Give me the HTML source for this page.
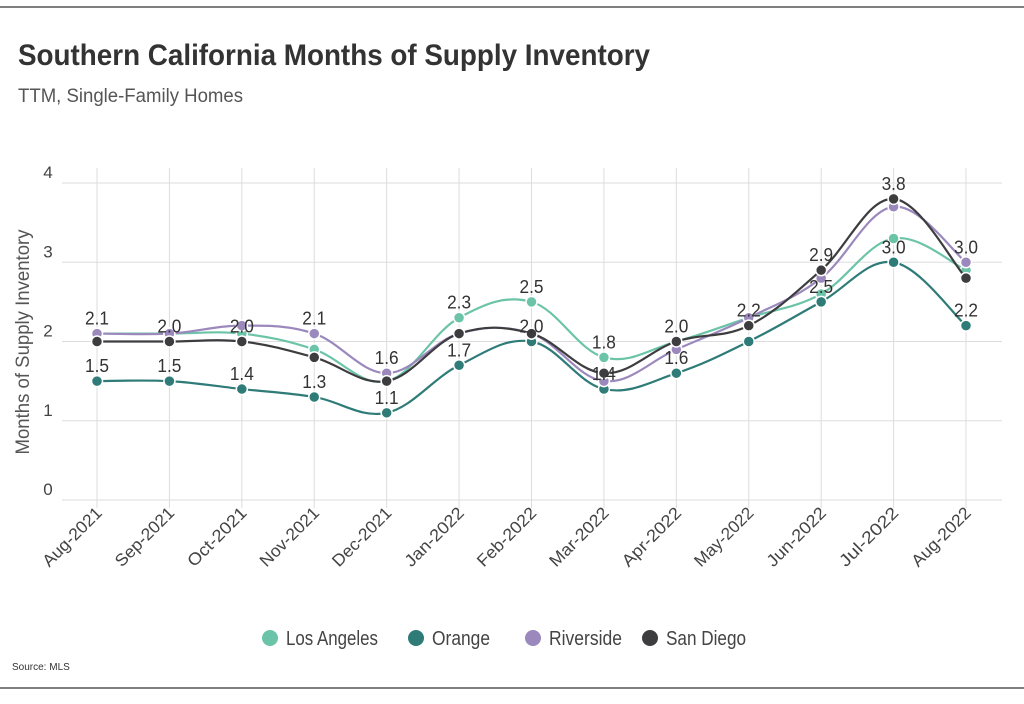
<!DOCTYPE html>
<html><head><meta charset="utf-8"><style>
body{margin:0;background:#fff;width:1024px;height:699px;overflow:hidden;font-family:"Liberation Sans Narrow","Liberation Sans",sans-serif;color:#333}
</style></head><body>
<svg id="c" width="1024" height="699" xmlns="http://www.w3.org/2000/svg">
<line x1="0" y1="7" x2="1024" y2="7" stroke="#555" stroke-width="1.5"/>
<line x1="0" y1="688" x2="1024" y2="688" stroke="#555" stroke-width="1.5"/>
<text x="18" y="65" font-size="30" font-weight="bold" fill="#333" textLength="632" lengthAdjust="spacingAndGlyphs">Southern California Months of Supply Inventory</text>
<text x="18" y="102" font-size="19" fill="#555" textLength="225" lengthAdjust="spacingAndGlyphs">TTM, Single-Family Homes</text>
<text transform="translate(29,342) rotate(-90)" text-anchor="middle" font-size="19" fill="#555" textLength="225" lengthAdjust="spacingAndGlyphs">Months of Supply Inventory</text>
<text x="12" y="670" font-size="10" fill="#333">Source:  MLS</text>
<g id="grid"></g><g id="lines"></g><g id="labels"></g><g id="legend"></g>
</svg>
<script>
const categories=["Aug-2021","Sep-2021","Oct-2021","Nov-2021","Dec-2021","Jan-2022","Feb-2022","Mar-2022","Apr-2022","May-2022","Jun-2022","Jul-2022","Aug-2022"];
const seriesNames=["Los Angeles","Orange","Riverside","San Diego"];
const losAngeles=[2.1,2.1,2.1,1.9,1.5,2.3,2.5,1.8,2.0,2.3,2.6,3.3,2.9];
const orange=[1.5,1.5,1.4,1.3,1.1,1.7,2.0,1.4,1.6,2.0,2.5,3.0,2.2];
const riverside=[2.1,2.1,2.2,2.1,1.6,2.1,2.1,1.5,1.9,2.3,2.8,3.7,3.0];
const sanDiego=[2.0,2.0,2.0,1.8,1.5,2.1,2.1,1.6,2.0,2.2,2.9,3.8,2.8];
const topLabels=[2.1,2.0,2.0,2.1,1.6,2.3,2.5,1.8,2.0,2.2,2.9,3.8,3.0];
const bottomLabels=[1.5,1.5,1.4,1.3,1.1,1.7,2.0,1.4,1.6,null,2.5,3.0,2.2];
const yTicks=[0,1,2,3,4];
const colors=["#6cc4a8","#2e7b78","#9b88bd","#3d3d40"];
const NS="http://www.w3.org/2000/svg";
const X0=97,X1=966,Y0=500,Y4=183;
const xs=i=>X0+(X1-X0)*i/(categories.length-1);
const ys=v=>Y0+(Y4-Y0)*v/4;
function mk(tag,attrs,parent){const e=document.createElementNS(NS,tag);for(const k in attrs)e.setAttribute(k,attrs[k]);parent.appendChild(e);return e;}
const grid=document.getElementById('grid');
yTicks.forEach(t=>{
  const l=mk('line',{x1:62,x2:1002,y1:ys(t),y2:ys(t),stroke:'#ddd','stroke-width':1},grid);
  
  
  const tx=mk('text',{x:48,y:ys(t)-5,'font-size':17,fill:'#444','text-anchor':'middle'},grid);tx.textContent=t;
  
  
});
categories.forEach((c,i)=>{
  const l=mk('line',{x1:xs(i),x2:xs(i),y1:168,y2:508,stroke:'#ddd','stroke-width':1},grid);
  
  
  const tx=mk('text',{transform:`translate(${xs(i)+6},${514}) rotate(-45)`,'font-size':17,fill:'#444','text-anchor':'end',textLength:76,lengthAdjust:'spacingAndGlyphs'},grid);tx.textContent=c;
  
  
});
function path(vals){
  const p=vals.map((v,i)=>[xs(i),ys(v)]);let d=`M${p[0][0]},${p[0][1]}`;
  for(let i=0;i<p.length-1;i++){const a=p[Math.max(i-1,0)],b=p[i],c=p[i+1],e=p[Math.min(i+2,p.length-1)];
    const t=0.18;d+=` C${b[0]+(c[0]-a[0])*t},${b[1]+(c[1]-a[1])*t} ${c[0]-(e[0]-b[0])*t},${c[1]-(e[1]-b[1])*t} ${c[0]},${c[1]}`;}
  return d;}
const all=[losAngeles,orange,riverside,sanDiego];
const lines=document.getElementById('lines');
all.forEach((vals,s)=>{
  const pth=mk('path',{d:path(vals),fill:'none',stroke:colors[s],'stroke-width':2.2},lines);
  
  
  vals.forEach((v,i)=>{
    const c=mk('circle',{cx:xs(i),cy:ys(v),r:5.5,fill:colors[s],stroke:'#fff','stroke-width':1.5},lines);
    
    
  });
});
const labels=document.getElementById('labels');
categories.forEach((c,i)=>{
  [topLabels[i],bottomLabels[i]].forEach(v=>{ if(v==null)return;
    const t=mk('text',{x:xs(i),y:ys(v)-9,'font-size':18,fill:'#333','text-anchor':'middle',textLength:24,lengthAdjust:'spacingAndGlyphs'},labels);t.textContent=v.toFixed(1);
    
    
  });
});
const legend=document.getElementById('legend');
const lx=[270,416,533,650];
const lw=[92,58,73,80];
seriesNames.forEach((n,s)=>{
  const g=mk('g',{},legend);
  
  
  mk('circle',{cx:lx[s],cy:638,r:8,fill:colors[s]},g);
  const t=mk('text',{x:lx[s]+16,y:645,'font-size':20,fill:'#444',textLength:lw[s],lengthAdjust:'spacingAndGlyphs'},g);t.textContent=n;
});
</script>
</body></html>
